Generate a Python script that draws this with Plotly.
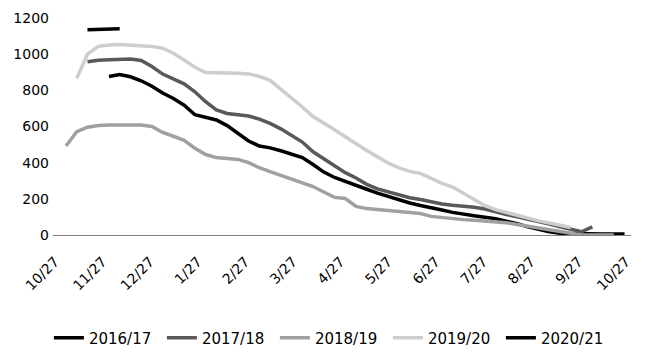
import plotly.graph_objects as go

weeks = list(range(53))

tick_pos = [-1.21, 3.22, 7.65, 12.09, 16.52, 20.95, 25.38, 29.81, 34.25, 38.68,
            43.11, 47.54, 51.97]
tick_text = ["10/27", "11/27", "12/27", "1/27", "2/27", "3/27", "4/27",
             "5/27", "6/27", "7/27", "8/27", "9/27", "10/27"]

s2016 = [None, None, None, None, 876, 888, 875, 853, 823, 785, 755, 718, 665, 650,
         636, 605, 565, 520, 492, 482, 466, 447, 428, 390, 348, 318, 295, 273, 253,
         232, 213, 195, 177, 163, 152, 138, 125, 114, 106, 98, 90, 76, 63, 45, 30,
         18, 10, 8, 6, 6, 5, 5, 5]
s2017 = [None, None, 958, 966, 969, 971, 973, 965, 932, 890, 862, 836, 792, 737,
         692, 672, 665, 658, 641, 617, 587, 553, 514, 460, 420, 384, 345, 315, 280,
         255, 238, 222, 206, 196, 182, 172, 165, 160, 154, 144, 126, 113, 101, 89,
         75, 61, 46, 32, 18, 45]
s2018 = [492, 571, 596, 606, 608, 608, 608, 608, 600, 567, 546, 524, 480, 445,
         428, 425, 418, 400, 372, 350, 330, 310, 290, 268, 238, 208, 202, 158, 146,
         140, 134, 130, 125, 119, 103, 96, 90, 85, 81, 78, 74, 68, 58, 48, 38, 28,
         18, 8, 0, 0, 0, 0]
s2019 = [None, 866, 1000, 1043, 1051, 1053, 1050, 1047, 1043, 1033, 1005, 968, 928,
         898, 898, 898, 895, 891, 877, 855, 808, 760, 708, 655, 620, 582, 543, 503,
         467, 432, 398, 371, 352, 340, 310, 285, 265, 230, 195, 162, 140, 125, 110,
         90, 78, 66, 52, 42]
s2020 = [None, None, 1135, 1138, 1140, 1140]

series = [
    ("2016/17", s2016, "#000000"),
    ("2017/18", s2017, "#595959"),
    ("2018/19", s2018, "#a0a0a0"),
    ("2019/20", s2019, "#cdcdcd"),
    ("2020/21", s2020, "#000000"),
]

fig = go.Figure()
for name, vals, col in series:
    fig.add_trace(go.Scatter(
        x=weeks[:len(vals)], y=vals, name=name, mode="lines",
        line=dict(color=col, width=3.5), connectgaps=False,
    ))

font_family = "DejaVu Sans, sans-serif"

fig.update_layout(
    width=646, height=358,
    margin=dict(l=53, r=15, t=18, b=123, autoexpand=False),
    paper_bgcolor="white", plot_bgcolor="white",
    font=dict(family=font_family, size=14, color="#000000"),
    showlegend=True,
    legend=dict(orientation="h", xref="container", yref="container",
                x=0.513, xanchor="center", y=0.056, yanchor="middle",
                font=dict(size=15, family=font_family),
                itemwidth=30, entrywidth=68, entrywidthmode="pixels",
                tracegroupgap=0),
    xaxis=dict(range=[-1.21, 52.6], tickmode="array", tickvals=tick_pos,
               ticktext=tick_text, tickangle=-45, showgrid=False,
               zeroline=False, showline=True, linecolor="#808080", linewidth=1,
               ticks="", automargin=False, ticklabelshift=2,
               ticklabelstandoff=12,
               tickfont=dict(size=14, color="#000000")),
    yaxis=dict(range=[0, 1200], tickvals=[0, 200, 400, 600, 800, 1000, 1200],
               showgrid=False, zeroline=False, showline=False, ticks="",
               automargin=False, ticklabelstandoff=3,
               tickfont=dict(size=14, color="#000000")),
)

fig.write_html("out.html",
               config={"displayModeBar": False},
               post_script="document.body.style.margin='0px';")
